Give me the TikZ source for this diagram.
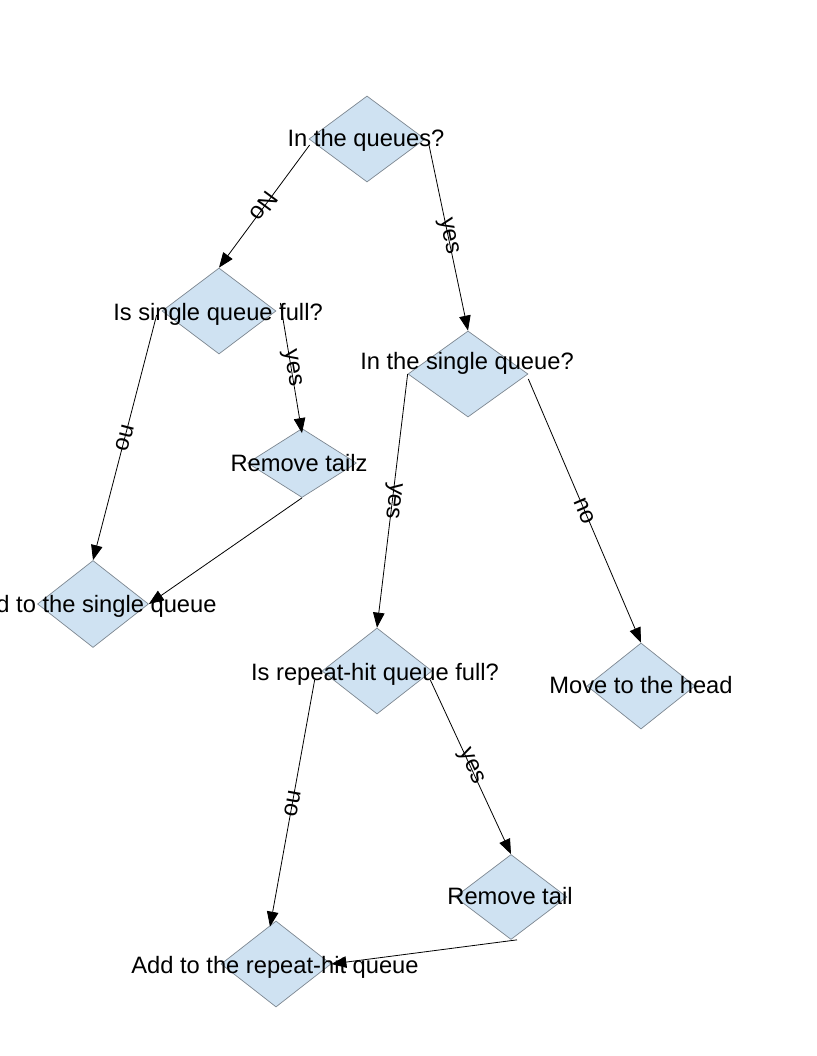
\documentclass[tikz,border=0pt]{standalone}
\usepackage{fontspec}
\setmainfont{Liberation Sans}
\usetikzlibrary{shapes.geometric,arrows.meta,calc}
\definecolor{boxblue}{RGB}{207,226,242}
\definecolor{boxline}{RGB}{125,135,145}
\newcommand{\dfont}{\fontsize{23.7}{28}\selectfont}
\tikzset{
  dia/.style={diamond, draw=boxline, fill=boxblue, line width=0.7pt, inner sep=0pt},
  lbl/.style={font=\dfont, anchor=base, inner sep=0pt},
  conn/.style={draw=black, line width=0.8pt, -{Triangle[length=15pt,width=11.5pt]}},
  elab/.style={font=\dfont, midway, sloped, allow upside down, inner sep=0pt, anchor=center}
}
\begin{document}
\begin{tikzpicture}[x=1pt,y=-1pt]
\useasboundingbox (0,0) rectangle (816,1056);
% diamonds
\node[dia, minimum width=116pt, minimum height=86pt] (q1) at (367,139) {};
\node[dia, minimum width=114pt, minimum height=86pt] (q2) at (219,311) {};
\node[dia, minimum width=120pt, minimum height=86pt] (q3) at (468,374) {};
\node[dia, minimum width=109pt, minimum height=69pt] (q4) at (302,463) {};
\node[dia, minimum width=111pt, minimum height=87pt] (q5) at (93,604) {};
\node[dia, minimum width=110pt, minimum height=86pt] (q6) at (377,671) {};
\node[dia, minimum width=108pt, minimum height=86pt] (q7) at (641,686) {};
\node[dia, minimum width=112pt, minimum height=85pt] (q8) at (511,897) {};
\node[dia, minimum width=110pt, minimum height=86pt] (q9) at (276,964) {};
% texts
\node[lbl] (t1) at (366,147) {In the queues?};
\node[lbl] (t2) at (218,320) {Is single queue full?};
\node[lbl] (t3) at (467,369) {In the single queue?};
\node[lbl] (t4) at (299,471) {Remove tailz};
\node[lbl] (t5) at (92,612) {Add to the single queue};
\node[lbl] (t6) at (375,680) {Is repeat-hit queue full?};
\node[lbl] (t7) at (641,693) {Move to the head};
\node[lbl] (t8) at (510,904) {Remove tail};
\node[lbl] (t9) at (275,973) {Add to the repeat-hit queue};
% connectors
\draw[conn] ($(q1.west)+(1,6)$) -- node[elab] (l1) {No} (q2.north);
\draw[conn] ($(q1.east)+(3,3)$) -- node[elab] (l2) {yes} (q3.north);
\draw[conn] ($(q2.west)+(-5,4)$) -- node[elab] (l3) {no} (q5.north);
\draw[conn] ($(q2.east)+(4,-8)$) -- node[elab] (l4) {yes} ($(q4.north)+(0,5)$);
\draw[conn] (q4.south) -- (q5.east);
\draw[conn] (q3.west) -- node[elab] (l6) {yes} (q6.north);
\draw[conn] ($(q3.east)+(0,5)$) -- node[elab] (l7) {no} (q7.north);
\draw[conn] ($(q6.west)+(-7,9)$) -- node[elab] (l8) {no} ($(q9.north)+(-6,6)$);
\draw[conn] ($(q6.east)+(-2,9)$) -- node[elab] (l9) {yes} (q8.north);
\draw[conn] ($(q8.south)+(6,0)$) -- (q9.east);
\end{tikzpicture}
\end{document}
